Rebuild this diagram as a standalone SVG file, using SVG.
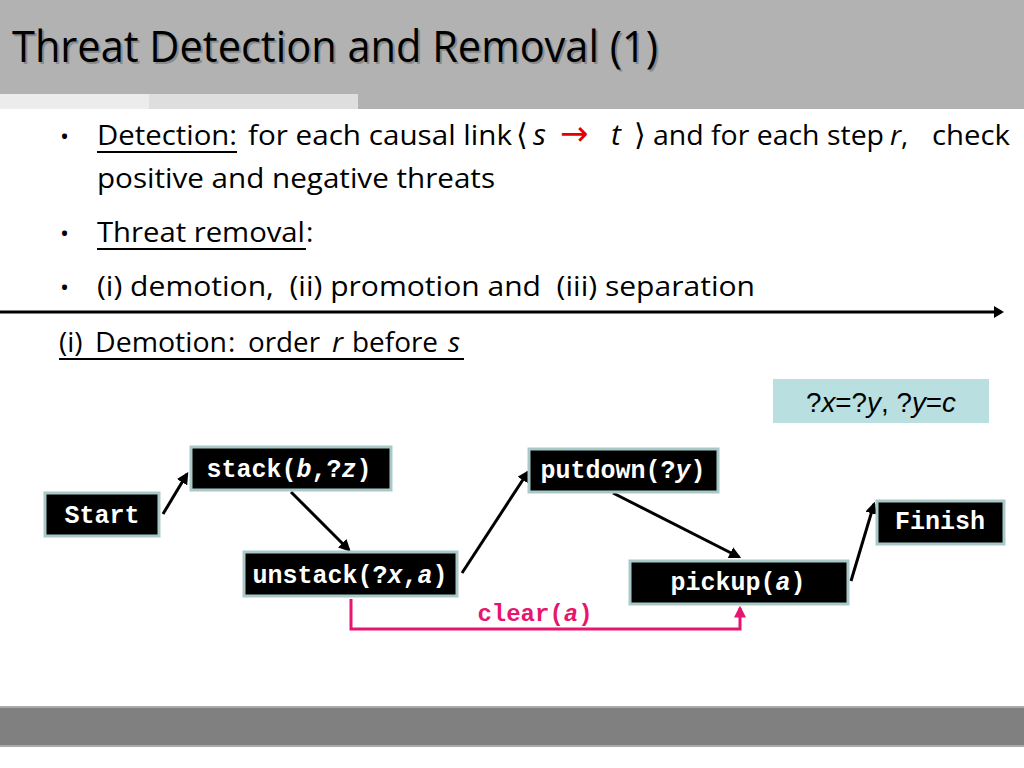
<svg xmlns="http://www.w3.org/2000/svg" width="1024" height="768" viewBox="0 0 1024 768">
<defs>
<style>
.body{font-family:"Open Sans","DejaVu Sans",sans-serif;font-size:28px;fill:#000}
.node rect{fill:#000;stroke:#a9c9c8;stroke-width:3}
.node text{font-family:"Liberation Mono","Courier New",monospace;font-size:25px;font-weight:bold;fill:#fff;text-anchor:middle}
.conn{stroke:#000;stroke-width:3;fill:none;marker-end:url(#ah)}
</style>
<marker id="ah" viewBox="0 0 10 10" refX="8" refY="5" markerWidth="4" markerHeight="4" orient="auto"><path d="M0,0 L10,5 L0,10 z" fill="#000"/></marker>
<marker id="ahp" viewBox="0 0 10 10" refX="8" refY="5" markerWidth="4" markerHeight="4" orient="auto"><path d="M0,0 L10,5 L0,10 z" fill="#e8156e"/></marker>
</defs>
<rect width="1024" height="768" fill="#fff"/>
<rect x="0" y="0" width="1024" height="109" fill="#b2b2b2"/>
<rect x="0" y="94" width="149" height="15" fill="#ececec"/>
<rect x="149" y="94" width="209" height="15" fill="#dedede"/>
<text x="14" y="64" font-family="Open Sans, DejaVu Sans, sans-serif" font-size="44" fill="#8a8a8a" textLength="646" lengthAdjust="spacingAndGlyphs">Threat Detection and Removal (1)</text>
<text x="12" y="62" font-family="Open Sans, DejaVu Sans, sans-serif" font-size="44" fill="#000" textLength="646" lengthAdjust="spacingAndGlyphs">Threat Detection and Removal (1)</text>
<g class="body">
<text x="60" y="145" font-size="24">•</text>
<text x="97" y="145" textLength="140" lengthAdjust="spacingAndGlyphs">Detection:</text>
<text x="248" y="145" textLength="264" lengthAdjust="spacingAndGlyphs">for each causal link</text>
<text x="516" y="145" font-family="DejaVu Sans, sans-serif" font-size="30">⟨</text>
<text x="533" y="145" font-style="italic" font-size="30">s</text>
<text x="560" y="145" fill="#e30000" font-family="DejaVu Sans, sans-serif" font-size="34">→</text>
<text x="611" y="145" font-style="italic" font-size="30">t</text>
<text x="634" y="145" font-family="DejaVu Sans, sans-serif" font-size="30">⟩</text>
<text x="653" y="145" textLength="231" lengthAdjust="spacingAndGlyphs">and for each step</text>
<text x="890" y="145"><tspan font-style="italic">r</tspan>,</text>
<text x="932" y="145" textLength="78" lengthAdjust="spacingAndGlyphs">check</text>
<text x="97" y="188" textLength="398" lengthAdjust="spacingAndGlyphs">positive and negative threats</text>
<text x="60" y="242" font-size="24">•</text>
<text x="97" y="242" textLength="208" lengthAdjust="spacingAndGlyphs">Threat removal</text><text x="306" y="242">:</text>
<text x="60" y="296" font-size="24">•</text>
<text x="97" y="296" textLength="658" lengthAdjust="spacingAndGlyphs" xml:space="preserve">(i) demotion,  (ii) promotion and  (iii) separation</text>
<text x="59" y="352">(i)</text>
<text x="95" y="352" textLength="132" lengthAdjust="spacingAndGlyphs">Demotion</text><text x="228" y="352">:</text>
<text x="248" y="352" textLength="72" lengthAdjust="spacingAndGlyphs">order</text>
<text x="332" y="352" font-style="italic">r</text>
<text x="352" y="352" textLength="86" lengthAdjust="spacingAndGlyphs">before</text>
<text x="448" y="352" font-style="italic">s</text>
</g>
<g stroke="#000" stroke-width="1.8">
<line x1="97" y1="152" x2="237" y2="152"/>
<line x1="97" y1="249" x2="306" y2="249"/>
<line x1="59" y1="359" x2="464" y2="359"/>
</g>
<g id="c-top">
<line x1="0" y1="312" x2="996" y2="312" stroke="#000" stroke-width="3"/>
<path d="M994,306 L1004,312 L994,318 z" fill="#000"/>
</g>
<g id="binding">
<rect x="773" y="379" width="216" height="44" fill="#b9dfe0"/>
<text x="881" y="412" font-family="Liberation Sans, Arial, sans-serif" font-size="27" text-anchor="middle" textLength="150" lengthAdjust="spacingAndGlyphs">?<tspan font-style="italic">x</tspan>=?<tspan font-style="italic">y</tspan>, ?<tspan font-style="italic">y</tspan>=<tspan font-style="italic">c</tspan></text>
</g>
<g id="connectors">
<line class="conn" x1="163" y1="514" x2="187" y2="474"/>
<line class="conn" x1="291" y1="492" x2="349" y2="550"/>
<line class="conn" x1="462" y1="573" x2="528" y2="472"/>
<line class="conn" x1="613" y1="493" x2="739" y2="557"/>
<line class="conn" x1="851" y1="581" x2="874" y2="504"/>
<path d="M351,599 V629 H740 V608" stroke="#e8156e" stroke-width="3" fill="none" marker-end="url(#ahp)"/>
<text x="535" y="621" font-family="Liberation Mono, Courier New, monospace" font-size="24" font-weight="bold" fill="#e8156e" text-anchor="middle">clear(<tspan font-style="italic">a</tspan>)</text>
</g>
<g id="start" class="node"><rect x="45" y="493" width="114" height="43"/><text x="102" y="523">Start</text></g>
<g id="stack" class="node"><rect x="191" y="447" width="200" height="43"/><text x="289" y="477">stack(<tspan font-style="italic">b</tspan>,?<tspan font-style="italic">z</tspan>)</text></g>
<g id="unstack" class="node"><rect x="244" y="552" width="213" height="44"/><text x="350" y="583">unstack(?<tspan font-style="italic">x</tspan>,<tspan font-style="italic">a</tspan>)</text></g>
<g id="putdown" class="node"><rect x="529" y="449" width="189" height="43"/><text x="623" y="478">putdown(?<tspan font-style="italic">y</tspan>)</text></g>
<g id="pickup" class="node"><rect x="630" y="561" width="218" height="43"/><text x="738" y="590">pickup(<tspan font-style="italic">a</tspan>)</text></g>
<g id="finish" class="node"><rect x="877" y="501" width="127" height="43"/><text x="940" y="529">Finish</text></g>
<rect x="0" y="706" width="1024" height="40" fill="#808080"/>
<rect x="0" y="706" width="1024" height="2" fill="#aaaaaa"/>
<rect x="0" y="745" width="1024" height="2" fill="#aaaaaa"/>
</svg>
